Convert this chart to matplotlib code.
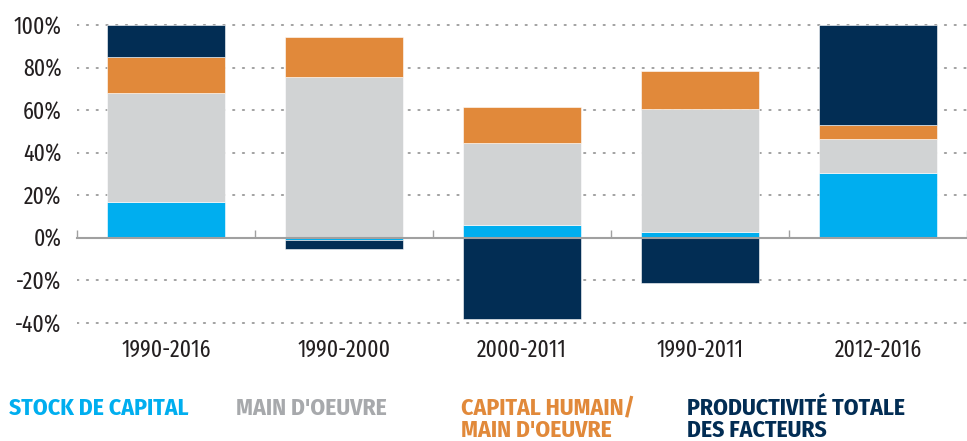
import numpy as np
import matplotlib
matplotlib.use("Agg")
import matplotlib.pyplot as plt
from matplotlib import font_manager as fm
from matplotlib.transforms import blended_transform_factory

# --- data (contribution to growth, %) ---
periods = ["1990-2016", "1990-2000", "2000-2011", "1990-2011", "2012-2016"]
stock_capital = [16.9, -1.0, 6.1, 2.8, 30.7]
main_oeuvre = [51.0, 75.4, 38.5, 57.8, 15.9]
capital_humain = [16.9, 19.0, 16.9, 17.8, 6.3]
ptf = [15.2, -4.3, -38.2, -21.3, 47.1]

series = [
    ("STOCK DE CAPITAL", stock_capital, "#00AEEF", "#00AEEF"),
    ("MAIN D'OEUVRE", main_oeuvre, "#D1D3D4", "#A7A9AC"),
    ("CAPITAL HUMAIN/\nMAIN D'OEUVRE", capital_humain, "#E1893A", "#E1893A"),
    ("PRODUCTIVITÉ TOTALE\nDES FACTEURS", ptf, "#022D54", "#022D54"),
]
yticks = [-40, -20, 0, 20, 40, 60, 80, 100]

# condensed faces, Myriad-like if possible
available = {f.name for f in fm.fontManager.ttflist}
def pick(cands):
    return next((c for c in cands if c in available), "DejaVu Sans")

COND = pick(["Fira Sans Condensed", "PT Sans Narrow", "Asap Condensed",
             "Roboto Condensed"])
XCOND = pick(["Fira Sans Extra Condensed", "Fira Sans Condensed",
              "PT Sans Narrow", "Roboto Condensed"])
plt.rcParams["font.family"] = [COND, "DejaVu Sans"]
TICKFONT = [XCOND, "DejaVu Sans"]
TICKSIZE = 17 if XCOND == "Fira Sans Extra Condensed" else 15

fig = plt.figure(figsize=(9.67, 4.41), dpi=100)
ax = fig.add_axes([0.0796, 0.2578, 0.9204, 0.6952])

x = np.arange(len(periods))
pos_base = np.zeros(len(periods))
neg_base = np.zeros(len(periods))
for name, vals, col, _ in series:
    v = np.array(vals)
    bottoms = np.where(v >= 0, pos_base, neg_base)
    ax.bar(x, v, width=0.667, bottom=bottoms, color=col,
           edgecolor="white", linewidth=0.4, zorder=3)
    pos_base += np.where(v >= 0, v, 0)
    neg_base += np.where(v < 0, v, 0)

ax.set_xlim(-0.5, -0.5 + 890 / 180)
ax.set_ylim(-42, 102)

# dotted gridlines
for t in yticks:
    if t != 0:
        ax.axhline(t, color="#9A9A9A", lw=1.3, ls=(0, (0.8, 4.6)),
                   dash_capstyle="round", zorder=1)

for s in ["top", "right", "left"]:
    ax.spines[s].set_visible(False)
ax.spines["bottom"].set_position(("data", 0))
ax.spines["bottom"].set_color("#A0A0A0")
ax.spines["bottom"].set_linewidth(1.5)
ax.spines["bottom"].set_zorder(4)

ax.set_xticks(np.arange(len(periods) + 1) - 0.5)
ax.set_xticklabels([])
ax.tick_params(axis="x", direction="in", length=6, width=1, color="#A0A0A0")

ax.set_yticks(yticks)
ax.set_yticklabels([f"{t}%" for t in yticks], fontsize=TICKSIZE,
                   color="#231F20", family=TICKFONT)
ax.tick_params(axis="y", length=0, pad=11)

trans = blended_transform_factory(ax.transData, ax.transAxes)
for xi, p in zip(x, periods):
    ax.text(xi, -0.074, p, transform=trans, ha="center", va="center",
            fontsize=TICKSIZE, color="#231F20", family=TICKFONT)

# legend as coloured text
leg_x = [9, 236, 461, 687]
for (name, _, _, tcol), lx in zip(series, leg_x):
    fig.text(lx / 967, 1 - 397 / 441, name, ha="left", va="top",
             fontsize=17, fontweight="bold", color=tcol, linespacing=0.92)

fig.savefig("out.png", dpi=100)
